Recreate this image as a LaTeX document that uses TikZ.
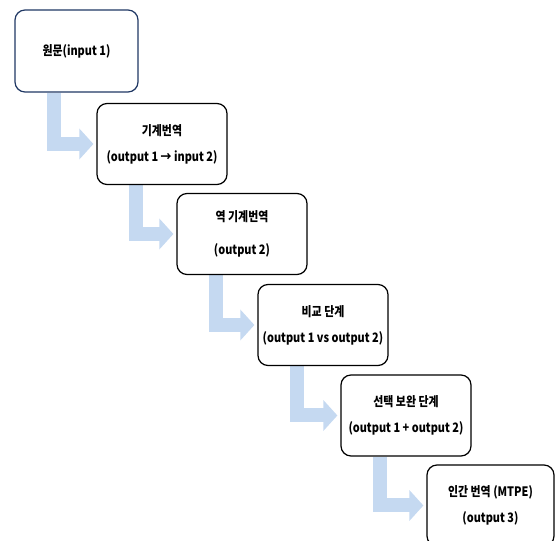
\documentclass[tikz,border=0pt]{standalone}
\usepackage{fontspec}
\newfontfamily\kfont{Noto Sans CJK KR}[FakeStretch=0.84]
\usetikzlibrary{arrows.meta,backgrounds}
\definecolor{navy}{RGB}{32,56,100}
\definecolor{flowblue}{RGB}{197,217,241}

\begin{document}
\begin{tikzpicture}[x=1pt, y=1pt,
    stepbox/.style={draw, rounded corners=10pt, line width=1.2pt, fill=white, minimum width=130pt, minimum height=81pt, align=center, font=\kfont\bfseries\fontsize{13}{26}\selectfont},
    flow/.style={draw=flowblue, line width=14pt, -{Triangle[width=30pt, length=14pt]}, shorten >=3pt}
]

\useasboundingbox (0,0) rectangle (555,541);
\clip (0,0) rectangle (555,541);

\node[stepbox, draw=navy, minimum width=123pt, minimum height=82pt] (source) at (76.5,490) {원문(input 1)};
\node[stepbox] (mt) at (162,397) {기계번역\\(output 1 → input 2)};
\node[stepbox] (backmt) at (242,307) {역 기계번역\\[7pt](output 2)};
\node[stepbox] (compare) at (323,216) {비교 단계\\(output 1 vs output 2)};
\node[stepbox] (select) at (406,125.5) {선택 보완 단계\\(output 1 + output 2)};
\node[stepbox, minimum width=127pt] (mtpe) at (490.5,35.5) {인간 번역 (MTPE)\\(output 3)};

% elbow arrows behind the boxes
\begin{scope}[on background layer]
\draw[flow] ([xshift=40pt]source.south west) |- (mt.west);
\draw[flow] ([xshift=40pt]mt.south west) |- (backmt.west);
\draw[flow] ([xshift=40pt]backmt.south west) |- (compare.west);
\draw[flow] ([xshift=40pt]compare.south west) |- (select.west);
\draw[flow] ([xshift=40pt]select.south west) |- (mtpe.west);
\end{scope}

\end{tikzpicture}
\end{document}
